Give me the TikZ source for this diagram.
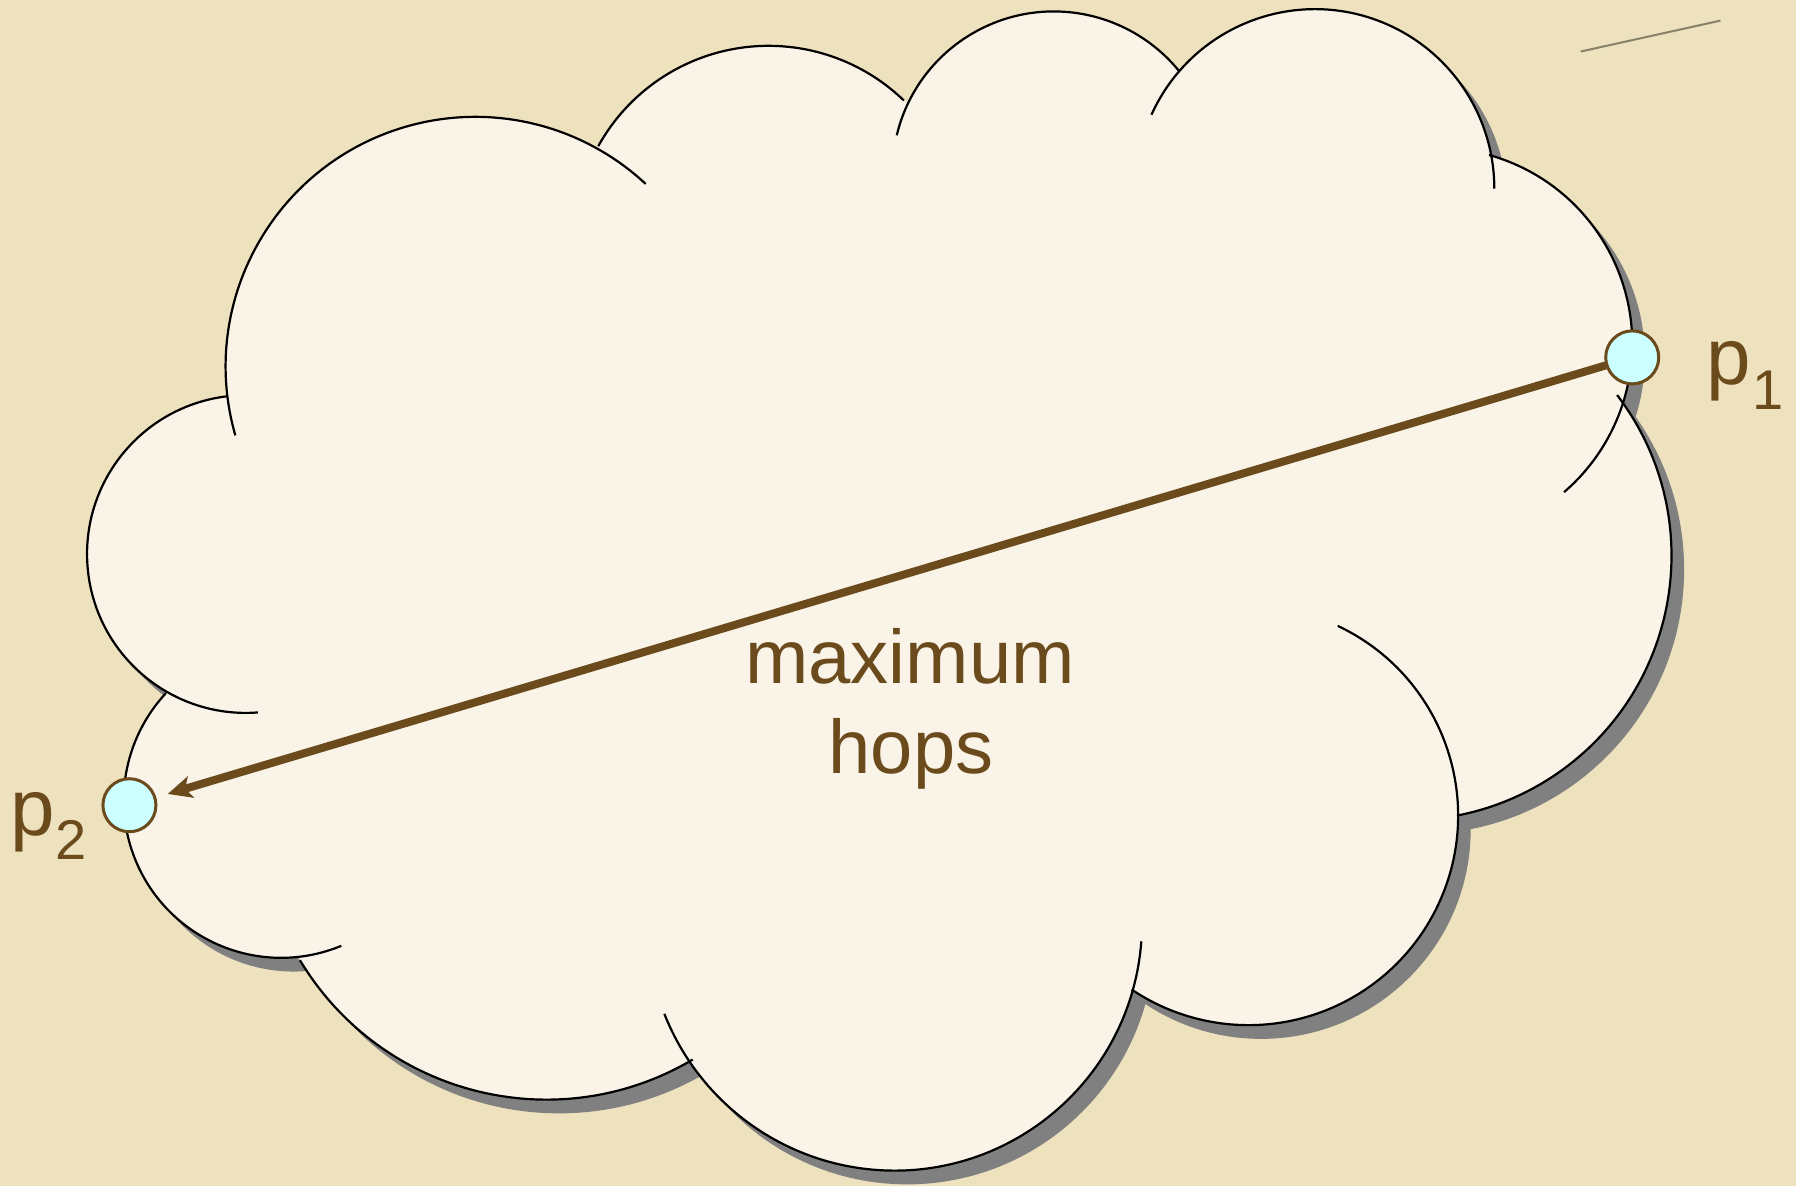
\documentclass[tikz,border=0pt]{standalone}
\usepackage{fontspec}
\setmainfont{Liberation Sans}
\usetikzlibrary{arrows.meta}
\definecolor{bgparch}{HTML}{EDE1BE}
\definecolor{cloudfill}{HTML}{F9F3E8}
\definecolor{shadowgray}{HTML}{808080}
\definecolor{hopbrown}{HTML}{6B4A1C}
\definecolor{ptcyan}{HTML}{CCFFFF}
\definecolor{fibercol}{HTML}{6E6A50}
\newcommand\cloudbody[3]{%
  \foreach \cx/\cy/\rr in {415/320/218, 671/210/170, 920/151/141, 1148/164.6/156.6,
      1254/300/171, 1228.3/485.2/231, 1090/712/183, 781/806/216, 477/709/251,
      245.4/698.8/137.4, 214.7/483.7/138.7}
    {\fill[#1] ({\cx+#2},{\cy+#3}) circle[radius=\rr pt];}
  \fill[#1] ({415+#2},{320+#3}) -- ({671+#2},{210+#3}) -- ({920+#2},{151+#3})
    -- ({1148+#2},{164.6+#3}) -- ({1254+#2},{300+#3}) -- ({1228.3+#2},{485.2+#3})
    -- ({1090+#2},{712+#3}) -- ({781+#2},{806+#3}) -- ({477+#2},{709+#3})
    -- ({245.4+#2},{698.8+#3}) -- ({214.7+#2},{483.7+#3}) -- cycle;}
\newcommand\cloudbump[5]{%
  \draw[cloudline] ({#1+#3*cos(#4)},{#2+#3*sin(#4)})
    arc[start angle=#4, end angle=#5, radius=#3 pt];}
\begin{document}
\begin{tikzpicture}[x=1pt, y=1pt, xscale=1.1454, yscale=-1.1454,
  cloudline/.style={draw=black, line width=2.2pt},
  ptnode/.style={circle, draw=hopbrown, line width=3pt, fill=ptcyan,
    minimum size=53pt, inner sep=0pt},
  hop/.style={draw=hopbrown, line width=8pt,
    -{Stealth[length=24pt, width=22pt, inset=6pt]}, shorten >=12pt},
  lbl/.style={text=hopbrown, inner sep=0pt, font=\fontsize{80}{90}\selectfont},
  txt/.style={text=hopbrown, inner sep=0pt, font=\fontsize{76}{90}\selectfont}]
  % background
  \fill[bgparch] (0,0) rectangle (1568,1035);
  \useasboundingbox (0,0) rectangle (1568,1035);
  \draw[fibercol, line width=2pt, opacity=0.8] (1380,45) -- (1502,18);
  % shadow and cloud body
  \cloudbody{shadowgray}{11}{12}
  \cloudbody{cloudfill}{0}{0}
  % outline bumps
  \cloudbump{415}{320}{218}{164}{313}
  \cloudbump{671}{210}{170}{209}{314}
  \cloudbump{920}{151}{141}{193.5}{321}
  \cloudbump{1148}{164.6}{156.6}{204.3}{360}
  \cloudbump{1254}{300}{171}{285.6}{409.3}
  \cloudbump{1228.3}{485.2}{231}{322.6}{439.1}
  \cloudbump{1090}{712}{183}{295.2}{483.9}
  \cloudbump{781}{806}{216}{4.2}{158.5}
  \cloudbump{477}{709}{251}{59.4}{149}
  \cloudbump{245.4}{698.8}{137.4}{67.5}{223}
  \cloudbump{214.7}{483.7}{138.7}{85.7}{263.1}
  % points and connector
  \node[ptnode] (p1) at (1425,312) {};
  \node[ptnode] (p2) at (113,703) {};
  \draw[hop] (p1) -- (p2);
  % labels
  \node[lbl, anchor=base west] (l1) at (1490,336.1)
    {p\kern1pt\raisebox{-25pt}{\fontsize{56}{56}\selectfont 1}};
  \node[lbl, anchor=base west] (l2) at (8.7,729)
    {p\kern1pt\raisebox{-24pt}{\fontsize{56}{56}\selectfont 2}};
  \node[txt, anchor=base] (m1) at (794.5,596.3) {maximum};
  \node[txt, anchor=base] (m2) at (795.4,674.9) {hops};
\end{tikzpicture}
\end{document}
